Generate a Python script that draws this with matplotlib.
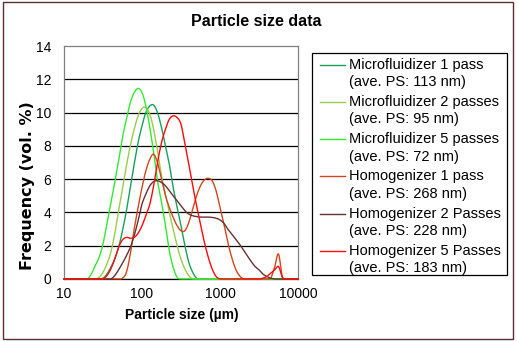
import numpy as np
import matplotlib
matplotlib.use("Agg")
import matplotlib.pyplot as plt
from matplotlib.lines import Line2D
from matplotlib.patches import Rectangle
from matplotlib.ticker import NullLocator

plt.rcParams['font.family'] = ['Liberation Sans', 'DejaVu Sans']

# Size bins (nm), 20 bins per decade
size_nm = [10.0, 11.2, 12.6, 14.1, 15.8, 17.8, 20.0, 22.4, 25.1, 28.2,
           31.6, 35.5, 39.8, 44.7, 50.1, 56.2, 63.1, 70.8, 79.4, 89.1,
           100, 112, 126, 141, 158, 178, 200, 224, 251, 282,
           316, 355, 398, 447, 501, 562, 631, 708, 794, 891,
           1000, 1122, 1259, 1413, 1585, 1778, 1995, 2239, 2512, 2818,
           3162, 3548, 3981, 4467, 5012, 5623, 6310, 7079, 7943, 8913,
           10000]

# Volume frequency (%) per bin
mf1 = [0, 0, 0, 0, 0, 0, 0, 0, 0, 0,
       0.05, 0.3, 0.7, 1.2, 1.9, 2.9, 4.1, 5.5, 6.9, 8.2,
       9.2, 10.0, 10.4, 10.45, 10.0, 9.1, 8.0, 6.9, 5.5, 4.3,
       3.2, 2.0, 1.0, 0.4, 0.05, 0, 0, 0, 0, 0,
       0, 0, 0, 0, 0, 0, 0, 0, 0, 0,
       0, 0, 0, 0, 0, 0, 0, 0, 0, 0,
       0]
mf2 = [0, 0, 0, 0, 0, 0, 0, 0, 0, 0.1,
       0.4, 0.9, 1.6, 2.7, 4.1, 5.4, 6.8, 8.0, 9.0, 9.8,
       10.25, 10.3, 9.9, 9.0, 7.7, 6.2, 5.1, 4.0, 3.0, 2.0,
       1.2, 0.6, 0.2, 0, 0, 0, 0, 0, 0, 0,
       0, 0, 0, 0, 0, 0, 0, 0, 0, 0,
       0, 0, 0, 0, 0, 0, 0, 0, 0, 0,
       0]
mf5 = [0, 0, 0, 0, 0, 0, 0, 0.3, 0.8, 1.3,
       2.1, 3.3, 4.5, 5.8, 7.1, 8.5, 9.6, 10.6, 11.2, 11.45,
       11.2, 10.4, 9.1, 7.6, 5.9, 4.6, 3.2, 1.7, 0.7, 0.1,
       0, 0, 0, 0, 0, 0, 0, 0, 0, 0,
       0, 0, 0, 0, 0, 0, 0, 0, 0, 0,
       0, 0, 0, 0, 0, 0, 0, 0, 0, 0,
       0]
hg1 = [0, 0, 0, 0, 0, 0, 0, 0, 0, 0,
       0, 0, 0, 0, 0, 0.05, 0.4, 1.5, 3.0, 4.3,
       5.5, 6.5, 7.2, 7.5, 7.0, 6.0, 5.0, 4.3, 3.7, 3.2,
       2.9, 2.9, 3.4, 4.2, 5.0, 5.6, 5.95, 6.05, 5.9, 5.3,
       4.3, 3.3, 2.2, 1.3, 0.6, 0.2, 0, 0, 0, 0,
       0, 0, 0, 0.05, 0.7, 1.5, 0.1, 0, 0, 0,
       0]
hg2 = [0, 0, 0, 0, 0, 0, 0, 0, 0, 0,
       0, 0, 0, 0.2, 0.55, 0.95, 1.4, 1.9, 2.6, 3.5,
       4.5, 5.1, 5.6, 5.85, 5.9, 5.8, 5.6, 5.3, 5.0, 4.7,
       4.4, 4.1, 3.9, 3.8, 3.75, 3.72, 3.72, 3.72, 3.7, 3.65,
       3.55, 3.35, 3.0, 2.7, 2.4, 2.1, 1.75, 1.4, 1.05, 0.75,
       0.55, 0.3, 0.15, 0.05, 0, 0, 0, 0, 0, 0,
       0]
hg5 = [0, 0, 0, 0, 0, 0, 0, 0, 0, 0,
       0, 0.2, 0.6, 1.2, 1.9, 2.35, 2.5, 2.45, 2.5, 2.75,
       3.2, 3.8, 4.5, 5.6, 7.0, 8.2, 9.0, 9.6, 9.8, 9.7,
       9.3, 8.1, 6.9, 5.6, 4.4, 3.3, 2.2, 1.3, 0.6, 0.15,
       0, 0, 0, 0, 0, 0, 0, 0, 0, 0,
       0, 0.05, 0.15, 0.35, 0.55, 0.75, 0.1, 0, 0, 0,
       0]

series_names = ["Microfluidizer 1 pass", "Microfluidizer 2 passes",
                "Microfluidizer 5 passes", "Homogenizer 1 pass",
                "Homogenizer 2 Passes", "Homogenizer 5 Passes"]
ave_ps_nm = [113, 95, 72, 268, 228, 183]
series_values = [mf1, mf2, mf5, hg1, hg2, hg5]
series_colors = ["#17a05a", "#9acb4c", "#33e833", "#d2461e", "#643232", "#ff0a0a"]

x_ticks = [10, 100, 1000, 10000]
x_tick_labels = ["10", "100", "1000", "10000"]
y_ticks = [0, 2, 4, 6, 8, 10, 12, 14]

W, H = 517, 341


def fx(x):
    return x / W


def fy(y):
    return 1 - y / H


def catmull_rom(x, y, steps=16):
    """Smooth polyline through the points (Excel-style smoothed line)."""
    out = []
    t = np.linspace(0, 1, steps, endpoint=False)[:, None]
    for arr in (np.asarray(x, float), np.asarray(y, float)):
        p = np.concatenate([[arr[0]], arr, [arr[-1]]])
        p0, p1, p2, p3 = p[:-3], p[1:-2], p[2:-1], p[3:]
        seg = 0.5 * (2 * p1 + (-p0 + p2) * t
                     + (2 * p0 - 5 * p1 + 4 * p2 - p3) * t ** 2
                     + (-p0 + 3 * p1 - 3 * p2 + p3) * t ** 3)
        out.append(np.append(seg.T.ravel(), arr[-1]))
    return out


fig = plt.figure(figsize=(W / 100, H / 100), dpi=100)
fig.patch.set_facecolor("white")

fig.add_artist(Rectangle((fx(3), fy(339)), fx(513) - fx(3), fy(2) - fy(339),
                         transform=fig.transFigure, fill=False,
                         edgecolor="#5b3030", lw=1.0))

ax = fig.add_axes([fx(64), fy(279), fx(298) - fx(64), fy(46) - fy(279)])
ax.set_xscale("log")
ax.set_xlim(10, 10000)
ax.set_ylim(0, 14)
ax.set_xticks(x_ticks)
ax.set_xticklabels(x_tick_labels)
ax.xaxis.set_minor_locator(NullLocator())
ax.set_yticks(y_ticks)
ax.tick_params(axis="both", length=0, labelsize=10, colors="black")
ax.tick_params(axis="x", pad=6)
ax.tick_params(axis="y", pad=9)
ax.grid(axis="y", color="black", lw=0.9)
ax.get_ygridlines()[-1].set_visible(False)
ax.set_axisbelow(True)
for side in ("left", "top", "right"):
    ax.spines[side].set_color("#808080")
    ax.spines[side].set_linewidth(0.9)
ax.spines["bottom"].set_color("black")
ax.spines["bottom"].set_linewidth(0.9)

log_size = np.log10(size_nm)
for vals, col in zip(series_values, series_colors):
    sx, sy = catmull_rom(log_size, vals)
    ax.plot(10 ** sx, np.clip(sy, 0, None), color=col, lw=1.0,
            zorder=3, clip_on=False)

ax.set_xlabel("Particle size (µm)", fontsize=10, fontweight="bold")
ax.xaxis.label.set_verticalalignment("center")
ax.xaxis.set_label_coords((181.5 - 64) / 234, (279 - 315.5) / 233)
ax.set_ylabel("Frequency (vol. %)", fontsize=11.5, fontweight="bold",
              family=["DejaVu Sans"])
ax.yaxis.label.set_verticalalignment("center")
ax.yaxis.set_label_coords((27.5 - 64) / 234, (279 - 186) / 233)

fig.text(fx(256.5), fy(21), "Particle size data", fontsize=11.5,
         fontweight="bold", ha="center", va="center")

# Legend box with two-line entries, handle next to the first line
fig.add_artist(Rectangle((fx(312), fy(275)), fx(507) - fx(312), fy(53) - fy(275),
                         transform=fig.transFigure, facecolor="white",
                         edgecolor="black", lw=0.9))
for k, (name, ps, col) in enumerate(zip(series_names, ave_ps_nm, series_colors)):
    y0 = 64.5 + k * 37.3
    fig.add_artist(Line2D([fx(320), fx(345)], [fy(y0), fy(y0)],
                          transform=fig.transFigure, color=col, lw=1.0))
    fig.text(fx(349), fy(y0), name, fontsize=10.5, ha="left", va="center")
    fig.text(fx(349), fy(y0 + 17.4), f"(ave. PS: {ps} nm)", fontsize=10.5,
             ha="left", va="center")

fig.savefig("out.png", dpi=100)
